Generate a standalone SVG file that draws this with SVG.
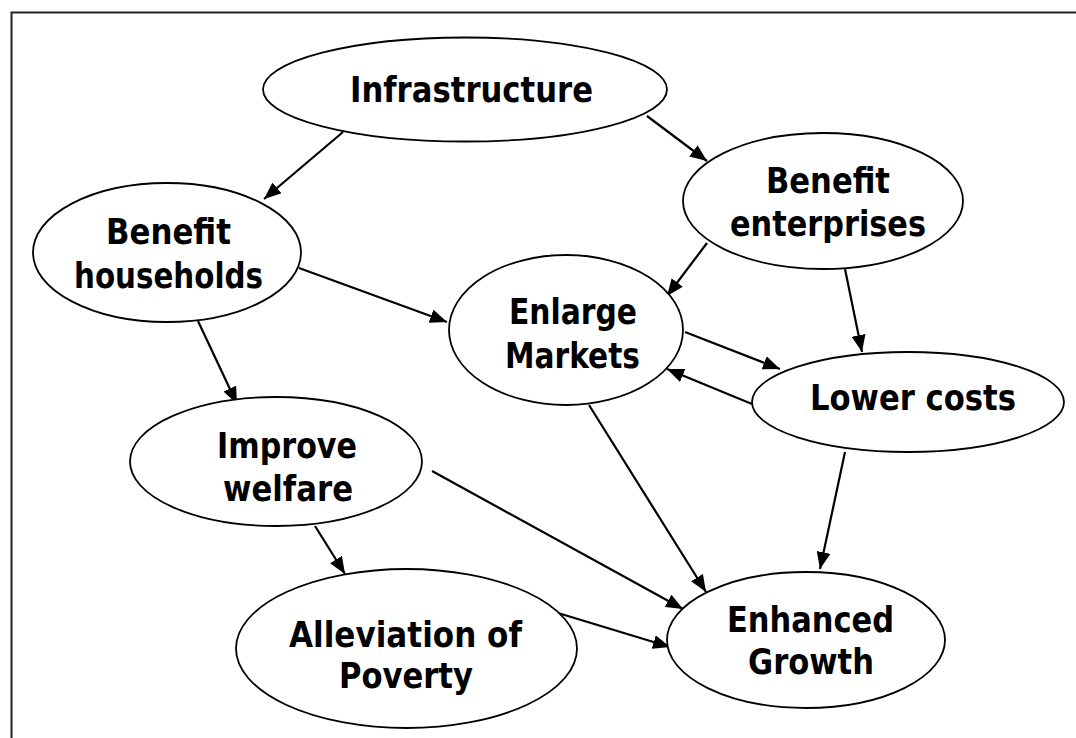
<svg xmlns="http://www.w3.org/2000/svg" width="1076" height="738" viewBox="0 0 1076 738">
  <style>
    .node ellipse { fill: #ffffff; stroke: #000000; stroke-width: 1.8; }
    .node text { font-family: "DejaVu Sans", "Liberation Sans", sans-serif; font-weight: bold; font-size: 35.5px; fill: #000000; text-anchor: middle; }
    .edges line { stroke: #000000; stroke-width: 2.2; marker-end: url(#arrow); }
  </style>
  <defs>
    <marker id="arrow" markerUnits="userSpaceOnUse" markerWidth="18" markerHeight="14" refX="17" refY="7" orient="auto">
      <path d="M0,0 L17,7 L0,14 z" fill="#000000"/>
    </marker>
  </defs>
  <rect x="0" y="0" width="1076" height="738" fill="#ffffff"/>
  <!-- frame: open at right and bottom -->
  <rect x="11.5" y="12.5" width="1080" height="740" fill="none" stroke="#222222" stroke-width="2"/>

  <g class="edges" id="connectors">
    <line x1="343" y1="132" x2="264" y2="199"/>
    <line x1="647" y1="116" x2="707" y2="161"/>
    <line x1="707" y1="243" x2="667" y2="296"/>
    <line x1="845" y1="269" x2="862" y2="352"/>
    <line x1="299" y1="268" x2="447" y2="322"/>
    <line x1="685" y1="332" x2="780" y2="369"/>
    <line x1="752" y1="404" x2="667" y2="369"/>
    <line x1="198" y1="321" x2="237" y2="404"/>
    <line x1="315" y1="526" x2="345" y2="574"/>
    <line x1="432" y1="471" x2="683" y2="609"/>
    <line x1="589" y1="405" x2="706" y2="592"/>
    <line x1="845" y1="452" x2="820" y2="569"/>
    <line x1="558" y1="613" x2="670" y2="647"/>
  </g>

  <g class="node" id="infrastructure">
    <ellipse cx="465" cy="89.5" rx="202" ry="52"/>
    <text x="471.5" y="102" textLength="243" lengthAdjust="spacingAndGlyphs">Infrastructure</text>
  </g>
  <g class="node" id="benefit-enterprises">
    <ellipse cx="823" cy="201" rx="140" ry="68"/>
    <text x="828" y="193" textLength="124" lengthAdjust="spacingAndGlyphs">Benefit</text>
    <text x="828" y="236" textLength="196" lengthAdjust="spacingAndGlyphs">enterprises</text>
  </g>
  <g class="node" id="benefit-households">
    <ellipse cx="167" cy="252.5" rx="134" ry="69.5"/>
    <text x="168.5" y="244" textLength="125" lengthAdjust="spacingAndGlyphs">Benefit</text>
    <text x="168.5" y="288" textLength="189" lengthAdjust="spacingAndGlyphs">households</text>
  </g>
  <g class="node" id="enlarge-markets">
    <ellipse cx="566" cy="330" rx="117" ry="75"/>
    <text x="573" y="324" textLength="128" lengthAdjust="spacingAndGlyphs">Enlarge</text>
    <text x="572.5" y="368" textLength="135" lengthAdjust="spacingAndGlyphs">Markets</text>
  </g>
  <g class="node" id="lower-costs">
    <ellipse cx="908" cy="402" rx="156" ry="50"/>
    <text x="913" y="410" textLength="206" lengthAdjust="spacingAndGlyphs">Lower costs</text>
  </g>
  <g class="node" id="improve-welfare">
    <ellipse cx="276" cy="461.5" rx="146" ry="64.5"/>
    <text x="287" y="458" textLength="140" lengthAdjust="spacingAndGlyphs">Improve</text>
    <text x="288" y="501" textLength="130" lengthAdjust="spacingAndGlyphs">welfare</text>
  </g>
  <g class="node" id="alleviation-of-poverty">
    <ellipse cx="406.5" cy="648.5" rx="170.5" ry="79.5"/>
    <text x="405.5" y="647" textLength="233" lengthAdjust="spacingAndGlyphs">Alleviation of</text>
    <text x="406" y="688" textLength="134" lengthAdjust="spacingAndGlyphs">Poverty</text>
  </g>
  <g class="node" id="enhanced-growth">
    <ellipse cx="806" cy="640" rx="139" ry="68"/>
    <text x="810.5" y="632" textLength="167" lengthAdjust="spacingAndGlyphs">Enhanced</text>
    <text x="811" y="674" textLength="126" lengthAdjust="spacingAndGlyphs">Growth</text>
  </g>
</svg>
